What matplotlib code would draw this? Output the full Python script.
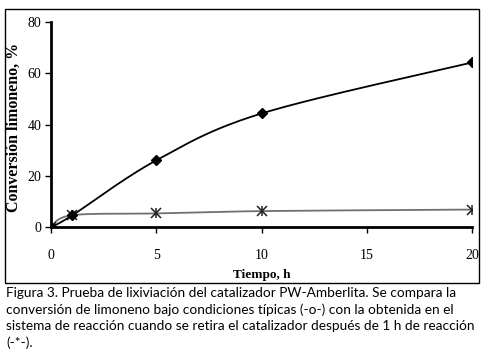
import numpy as np
import matplotlib
matplotlib.use("Agg")
import matplotlib.pyplot as plt
from matplotlib.patches import Rectangle

time_h = [0, 1, 5, 10, 20]
conv_typical = [0, 4.5, 26, 44.3, 64.2]
conv_removed = [0, 4.6, 5.3, 6.2, 6.8]
x_ticks = [0, 5, 10, 15, 20]
y_ticks = [0, 20, 40, 60, 80]
caption = ("Figura 3. Prueba de lixiviación del catalizador PW-Amberlita. Se compara la\n"
           "conversión de limoneno bajo condiciones típicas (-o-) con la obtenida en el\n"
           "sistema de reacción cuando se retira el catalizador después de 1 h de reacción\n"
           "(-*-).")


def smooth(xs, ys, n=40):
    # Bezier smoothing (Excel-style, Catmull-Rom tension 1/6) in display-like scale
    xs = np.asarray(xs, float); ys = np.asarray(ys, float)
    sx, sy = 421 / 20.0, 205 / 80.0
    P = np.column_stack([xs * sx, ys * sy])
    out = []
    for i in range(len(P) - 1):
        p0 = P[i - 1] if i > 0 else P[i]
        p1, p2 = P[i], P[i + 1]
        p3 = P[i + 2] if i + 2 < len(P) else P[i + 1]
        c1 = p1 + (p2 - p0) / 6.0
        c2 = p2 - (p3 - p1) / 6.0
        t = np.linspace(0, 1, n)[:, None]
        seg = ((1 - t) ** 3) * p1 + 3 * ((1 - t) ** 2) * t * c1 + 3 * (1 - t) * t ** 2 * c2 + t ** 3 * p2
        out.append(seg if i == 0 else seg[1:])
    C = np.vstack(out)
    return C[:, 0] / sx, C[:, 1] / sy


fig = plt.figure(figsize=(4.88, 3.6), dpi=100)
fig.patch.set_facecolor("white")
fig.add_artist(Rectangle((5 / 488, 1 - 283 / 360), 474 / 488, 274 / 360,
                         transform=fig.transFigure, fill=False, edgecolor="black", lw=1.0))

ax = fig.add_axes([51 / 488, 1 - 227 / 360, 421 / 488, 205 / 360])
serif = "Liberation Serif"

sx, sy = smooth(time_h, conv_removed)
ax.plot(sx, sy, color="#707070", lw=1.3, zorder=2)
ax.plot(time_h, conv_removed, ls="none", marker="x", ms=7, mew=1.1, color="#202020", zorder=3)
ax.plot(time_h, conv_removed, ls="none", marker="|", ms=7, mew=1.1, color="#202020", zorder=3)

tx, ty = smooth(time_h, conv_typical)
ax.plot(tx, ty, color="black", lw=1.3, zorder=4)
ax.plot(time_h, conv_typical, ls="none", marker="D", ms=5.5, color="black", zorder=5)

ax.set_xlim(0, 20)
ax.set_ylim(0, 80)
ax.set_xticks(x_ticks)
ax.set_yticks(y_ticks)
for s in ["top", "right"]:
    ax.spines[s].set_visible(False)
ax.spines["left"].set_linewidth(2)
ax.spines["bottom"].set_linewidth(2)
ax.tick_params(axis="x", direction="out", length=4, width=1, pad=12, labelsize=10)
ax.tick_params(axis="y", direction="out", length=4, width=1, pad=3, labelsize=10)
for lab in ax.get_xticklabels() + ax.get_yticklabels():
    lab.set_fontfamily(serif)

ax.set_xlabel("Tiempo, h", fontfamily=serif, fontweight="bold", fontsize=9.5, labelpad=5)
ax.set_ylabel("Conversión limoneno, %", fontfamily=serif, fontweight="bold", fontsize=11.5)
ax.yaxis.set_label_coords(-0.068, 0.485)

fig.text(6 / 488, 1 - 287 / 360, caption, ha="left", va="top", fontsize=9.8,
         family=["Lato", "DejaVu Sans"], linespacing=1.4)

fig.savefig("out.png", dpi=100)
